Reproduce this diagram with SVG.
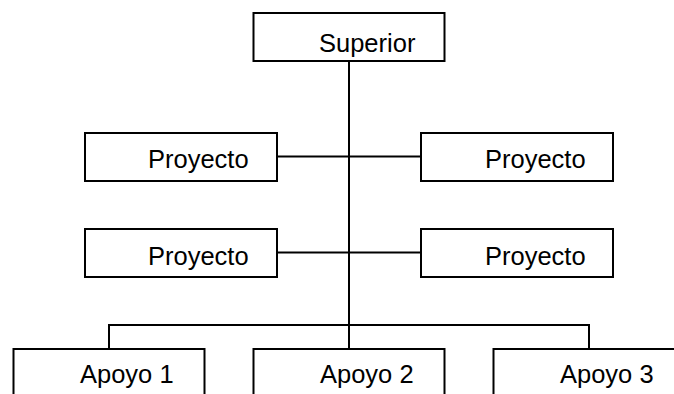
<svg xmlns="http://www.w3.org/2000/svg" width="674" height="394" viewBox="0 0 674 394">
  <style>
    .box { fill: #ffffff; stroke: #000000; stroke-width: 2; }
    .lbl { font-family: "Liberation Sans", Arial, sans-serif; font-size: 25.5px; fill: #000000; }
    .wire { fill: none; stroke: #000000; stroke-width: 2; }
  </style>
  <rect width="674" height="394" fill="#ffffff"/>

  <!-- connectors -->
  <g id="connectors" class="wire">
    <line x1="349" y1="61" x2="349" y2="349"/>
    <line x1="277" y1="156.5" x2="421" y2="156.5"/>
    <line x1="277" y1="252.5" x2="421" y2="252.5"/>
    <polyline points="109,349 109,325 589,325 589,349"/>
  </g>

  <g id="superior">
    <rect class="box" x="253.5" y="13" width="191" height="48"/>
    <text class="lbl" x="319" y="52">Superior</text>
  </g>

  <g id="proyecto-1">
    <rect class="box" x="85" y="133" width="192" height="48"/>
    <text class="lbl" x="148" y="168">Proyecto</text>
  </g>
  <g id="proyecto-2">
    <rect class="box" x="421" y="133" width="192" height="48"/>
    <text class="lbl" x="485" y="168">Proyecto</text>
  </g>
  <g id="proyecto-3">
    <rect class="box" x="85" y="229" width="192" height="48"/>
    <text class="lbl" x="148" y="264.5">Proyecto</text>
  </g>
  <g id="proyecto-4">
    <rect class="box" x="421" y="229" width="192" height="48"/>
    <text class="lbl" x="485" y="264.5">Proyecto</text>
  </g>

  <g id="apoyo-1">
    <rect class="box" x="13.5" y="349" width="191" height="60"/>
    <text class="lbl" x="80" y="383">Apoyo 1</text>
  </g>
  <g id="apoyo-2">
    <rect class="box" x="253.5" y="349" width="191" height="60"/>
    <text class="lbl" x="320" y="383">Apoyo 2</text>
  </g>
  <g id="apoyo-3">
    <rect class="box" x="493.5" y="349" width="191" height="60"/>
    <text class="lbl" x="560" y="383">Apoyo 3</text>
  </g>
</svg>
